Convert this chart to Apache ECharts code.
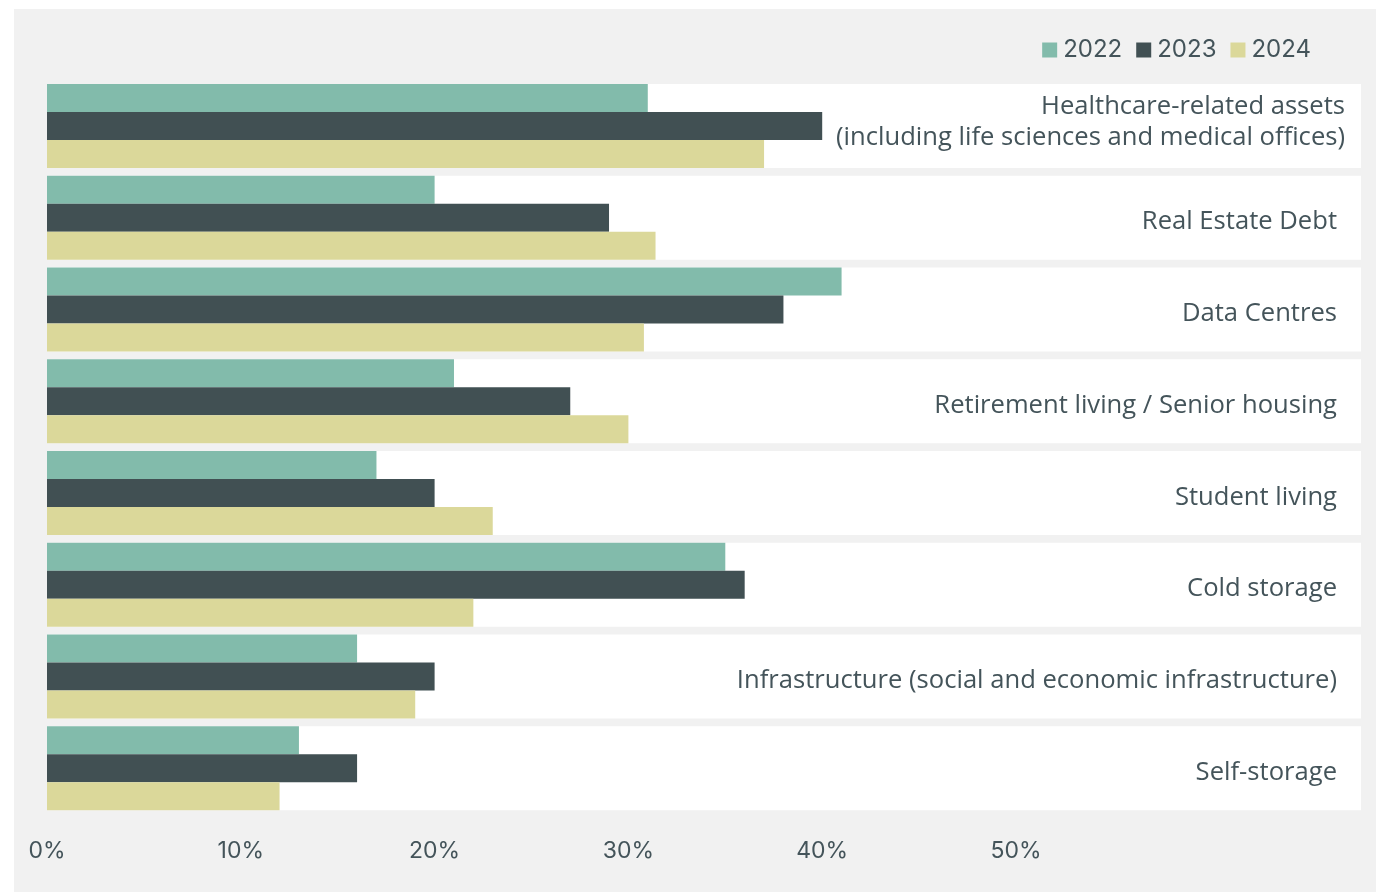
<!DOCTYPE html>
<html>
<head>
<meta charset="utf-8">
<script src="https://cdn.jsdelivr.net/npm/echarts@6/dist/echarts.min.js"></script>
<style>
html,body{margin:0;padding:0;background:#ffffff;}
#chart{width:1376px;height:892px;}
</style>
</head>
<body>
<div id="chart"></div>
<script>
const categories = [
  'Healthcare-related assets\n(including life sciences and medical offices)',
  'Real Estate Debt',
  'Data Centres',
  'Retirement living / Senior housing',
  'Student living',
  'Cold storage',
  'Infrastructure (social and economic infrastructure)',
  'Self-storage'
];
const years = ['2022', '2023', '2024'];
const values2022 = [31, 20, 41, 21, 17, 35, 16, 13];
const values2023 = [40, 29, 38, 27, 20, 36, 20, 16];
const values2024 = [37, 31.4, 30.8, 30, 23, 22, 19, 12];
const xTicks = [0, 10, 20, 30, 40, 50];

const colors = ['#82bbab', '#415053', '#dbd89a'];
const textColor = '#44545a';

const chart = echarts.init(document.getElementById('chart'));
const gridTop = 80, gridBottom = 78;

const seriesData = [values2022, values2023, values2024];
const labelFont = { fontFamily: 'Open Sans', fontSize: 25.6, color: textColor, lineHeight: 31 };

const option = {
  animation: false,
  graphic: [{
    type: 'rect', z: -10, silent: true,
    shape: { x: 14, y: 9, width: 1376 - 14, height: 892 - 9 },
    style: { fill: '#f1f1f1' }
  }],
  legend: {
    data: years,
    right: 60,
    top: 33,
    itemWidth: 15,
    itemHeight: 15,
    itemGap: 14,
    icon: 'rect',
    textStyle: { fontFamily: 'Inter', fontSize: 24, color: textColor, padding: [0, 0, 0, 1] }
  },
  grid: [
    { left: 47, width: 50 * 19.38, top: gridTop, bottom: gridBottom },
    { left: 47, right: 15, top: gridTop, bottom: gridBottom }
  ],
  xAxis: [
    {
      gridIndex: 0, type: 'value', min: xTicks[0], max: xTicks[xTicks.length - 1], interval: 10,
      axisLine: { show: false }, axisTick: { show: false }, splitLine: { show: false },
      axisLabel: {
        formatter: v => v + '%', margin: 26,
        fontFamily: 'Inter', fontSize: 23, color: textColor
      }
    },
    {
      gridIndex: 1, type: 'value', min: 0, max: 1, show: false
    }
  ],
  yAxis: [
    {
      gridIndex: 0, type: 'category', data: categories, inverse: true,
      axisLine: { show: false }, axisTick: { show: false }, axisLabel: { show: false }
    },
    {
      gridIndex: 1, type: 'category', data: categories, inverse: true, position: 'right',
      axisLine: { show: false }, axisTick: { show: false },
      axisLabel: Object.assign({
        inside: true, margin: 16, align: 'right', padding: [0, 0, 8, 0],
        formatter: (v, i) => i === 0 ? '{b|' + v.split('\n').join('}\n{b|') + '}' : '{a|' + v + '}',
        rich: {
          a: Object.assign({ padding: [17, 8, 0, 0] }, labelFont),
          b: Object.assign({ padding: [0, 0, 0, 0] }, labelFont)
        }
      }, labelFont)
    }
  ],
  series: [
    {
      name: 'band', type: 'bar', xAxisIndex: 1, yAxisIndex: 1, silent: true,
      data: categories.map(() => 1), barWidth: 84, z: 0,
      itemStyle: { color: '#ffffff' }
    }
  ].concat(years.map((y, i) => ({
    name: y, type: 'bar', xAxisIndex: 0, yAxisIndex: 0,
    data: seriesData[i], barWidth: 28, barGap: '0%', z: 2,
    itemStyle: { color: colors[i] }
  })))
};
chart.setOption(option);
</script>
</body>
</html>
